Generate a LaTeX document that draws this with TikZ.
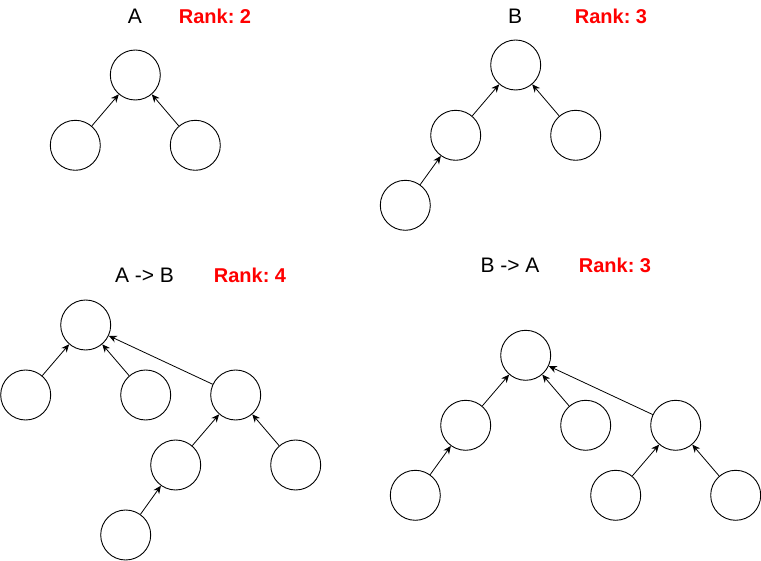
\documentclass[tikz,border=0pt]{standalone}
\usepackage{fontspec}
\setmainfont{Liberation Sans}
\usetikzlibrary{arrows.meta}
\definecolor{rankred}{RGB}{255,0,0}
\frenchspacing
\begin{document}
\begin{tikzpicture}[x=1pt,y=-1pt,
  vert/.style={circle,draw=black,line width=0.9pt,minimum size=50pt,inner sep=0pt,fill=white},
  edge/.style={draw=black,line width=0.8pt,-{Stealth[length=8pt,width=7pt]}},
  title/.style={font=\fontsize{21}{24}\selectfont,text=black,inner sep=0pt},
  rank/.style={font=\fontsize{20}{24}\selectfont\bfseries,text=rankred,inner sep=0pt}]
\useasboundingbox (0,0) rectangle (761,561);
% Group A
\node[title] (tA) at (135,16) {A};
\node[rank] (rA) at (215,16) {Rank: 2};
\node[vert] (a0) at (135.3,75) {};
\node[vert] (a1) at (75.3,145.3) {};
\node[vert] (a2) at (195.3,145.3) {};
\draw[edge] (a1) -- (a0);
\draw[edge] (a2) -- (a0);
% Group B
\node[title] (tB) at (515,16) {B};
\node[rank] (rB) at (611,16) {Rank: 3};
\node[vert] (b0) at (515.7,65) {};
\node[vert] (b1) at (455.7,135.3) {};
\node[vert] (b2) at (575.7,135.3) {};
\node[vert] (b3) at (405.3,205.3) {};
\draw[edge] (b1) -- (b0);
\draw[edge] (b2) -- (b0);
\draw[edge] (b3) -- (b1);
% Group A -> B
\node[title] (tAB) at (144.5,275) {A -> B};
\node[rank] (rAB) at (250,275) {Rank: 4};
\node[vert] (c0) at (85.7,325) {};
\node[vert] (c1) at (25.7,395) {};
\node[vert] (c2) at (145.7,395) {};
\node[vert] (c3) at (235.7,395) {};
\node[vert] (c4) at (175.7,465) {};
\node[vert] (c5) at (295.7,465) {};
\node[vert] (c6) at (125.7,535) {};
\draw[edge] (c1) -- (c0);
\draw[edge] (c2) -- (c0);
\draw[edge] (c3) -- (c0);
\draw[edge] (c4) -- (c3);
\draw[edge] (c5) -- (c3);
\draw[edge] (c6) -- (c4);
% Group B -> A
\node[title] (tBA) at (510,265) {B -> A};
\node[rank] (rBA) at (615,265) {Rank: 3};
\node[vert] (d0) at (525.7,355.3) {};
\node[vert] (d1) at (465.7,425.3) {};
\node[vert] (d2) at (585.7,425.3) {};
\node[vert] (d3) at (675.7,425.3) {};
\node[vert] (d4) at (415.3,495.3) {};
\node[vert] (d5) at (615.7,495.3) {};
\node[vert] (d6) at (735.7,495.3) {};
\draw[edge] (d1) -- (d0);
\draw[edge] (d2) -- (d0);
\draw[edge] (d3) -- (d0);
\draw[edge] (d4) -- (d1);
\draw[edge] (d5) -- (d3);
\draw[edge] (d6) -- (d3);
\end{tikzpicture}
\end{document}
